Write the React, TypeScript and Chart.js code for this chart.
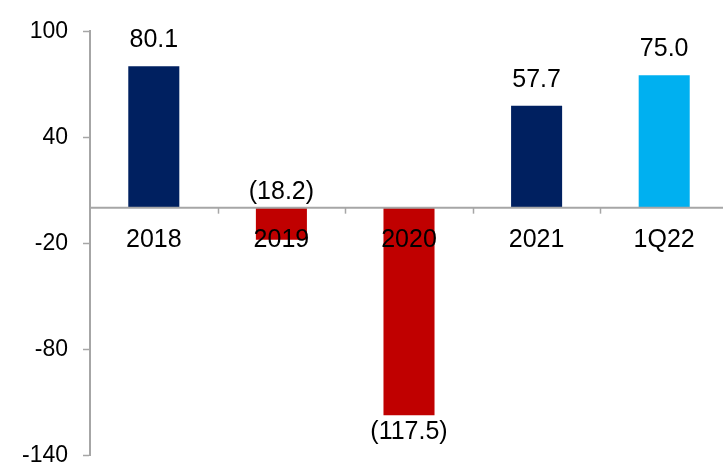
import React, { useEffect, useRef } from "react";
import { Chart, registerables } from "chart.js";

Chart.register(...registerables);

const categories = ["2018", "2019", "2020", "2021", "1Q22"];
const values = [80.1, -18.2, -117.5, 57.7, 75.0];
const barColors = ["#002060", "#C00000", "#C00000", "#002060", "#00B0F0"];
const yTicks = [100, 40, -20, -80, -140];

const FONT = "Arial, 'Liberation Sans', sans-serif";
const AXIS = "#A6A6A6";

const fmt = (v: number) => (v < 0 ? `(${Math.abs(v).toFixed(1)})` : v.toFixed(1));

const overlayPlugin = {
  id: "overlay",
  afterDraw(chart: any) {
    const { ctx, chartArea } = chart;
    const xs = chart.scales.x;
    const ys = chart.scales.y;
    const y0 = ys.getPixelForValue(0);
    const meta = chart.getDatasetMeta(0);
    ctx.save();
    // zero line
    ctx.strokeStyle = AXIS;
    ctx.lineWidth = 2;
    ctx.beginPath();
    ctx.moveTo(chartArea.left, y0);
    ctx.lineTo(chartArea.right, y0);
    ctx.stroke();
    // category boundary tick marks
    ctx.lineWidth = 1.5;
    const n = categories.length;
    const w = (chartArea.right - chartArea.left) / n;
    for (let i = 1; i <= n; i++) {
      const x = Math.round(chartArea.left + i * w) + 0.5;
      ctx.beginPath();
      ctx.moveTo(x, y0);
      ctx.lineTo(x, y0 + 6);
      ctx.stroke();
    }
    ctx.fillStyle = "#000";
    // y tick labels
    ctx.textAlign = "right";
    ctx.textBaseline = "middle";
    ctx.font = `23px ${FONT}`;
    yTicks.forEach((t) => {
      ctx.fillText(String(t), chartArea.left - 22, ys.getPixelForValue(t) + 1);
    });
    ctx.textAlign = "center";
    ctx.font = `25px ${FONT}`;
    // category labels
    categories.forEach((c, i) => {
      ctx.fillText(c, xs.getPixelForValue(i), y0 + 32);
    });
    // value labels
    meta.data.forEach((bar: any, i: number) => {
      const v = values[i];
      let y: number;
      if (v >= 0) y = bar.y - 26;
      else if (Math.abs(v) < 30) y = y0 - 16;
      else y = bar.y + 17;
      ctx.fillText(fmt(v), bar.x, y);
    });
    ctx.restore();
  },
};

export default function App() {
  const ref = useRef<HTMLCanvasElement>(null);
  useEffect(() => {
    if (!ref.current) return;
    const chart = new Chart(ref.current, {
      type: "bar",
      data: {
        labels: categories,
        datasets: [
          {
            data: values,
            backgroundColor: barColors,
            borderWidth: 0,
            categoryPercentage: 1,
            barPercentage: 0.4,
          },
        ],
      },
      options: {
        animation: false,
        responsive: false,
        maintainAspectRatio: false,
        layout: { padding: { top: 31, left: 0, right: 0, bottom: 9 } },
        plugins: { legend: { display: false }, tooltip: { enabled: false } },
        scales: {
          x: {
            display: false,
            offset: true,
          },
          y: {
            min: -140,
            max: 100,
            afterBuildTicks: (axis: any) => {
              axis.ticks = yTicks.map((v) => ({ value: v }));
            },
            afterFit: (axis: any) => {
              axis.width = 90;
            },
            grid: {
              display: true,
              drawOnChartArea: false,
              drawTicks: true,
              tickLength: 7,
              tickColor: AXIS,
              tickWidth: 1.5,
            },
            border: { display: true, color: AXIS, width: 2 },
            ticks: { display: false },
          },
        },
      },
      plugins: [overlayPlugin],
    });
    return () => chart.destroy();
  }, []);
  return (
    <div style={{ position: "fixed", left: 0, top: 0, width: 723, height: 464, overflow: "hidden", background: "#fff" }}>
      <canvas ref={ref} width={728} height={464} style={{ display: "block", width: 728, height: 464 }} />
    </div>
  );
}
